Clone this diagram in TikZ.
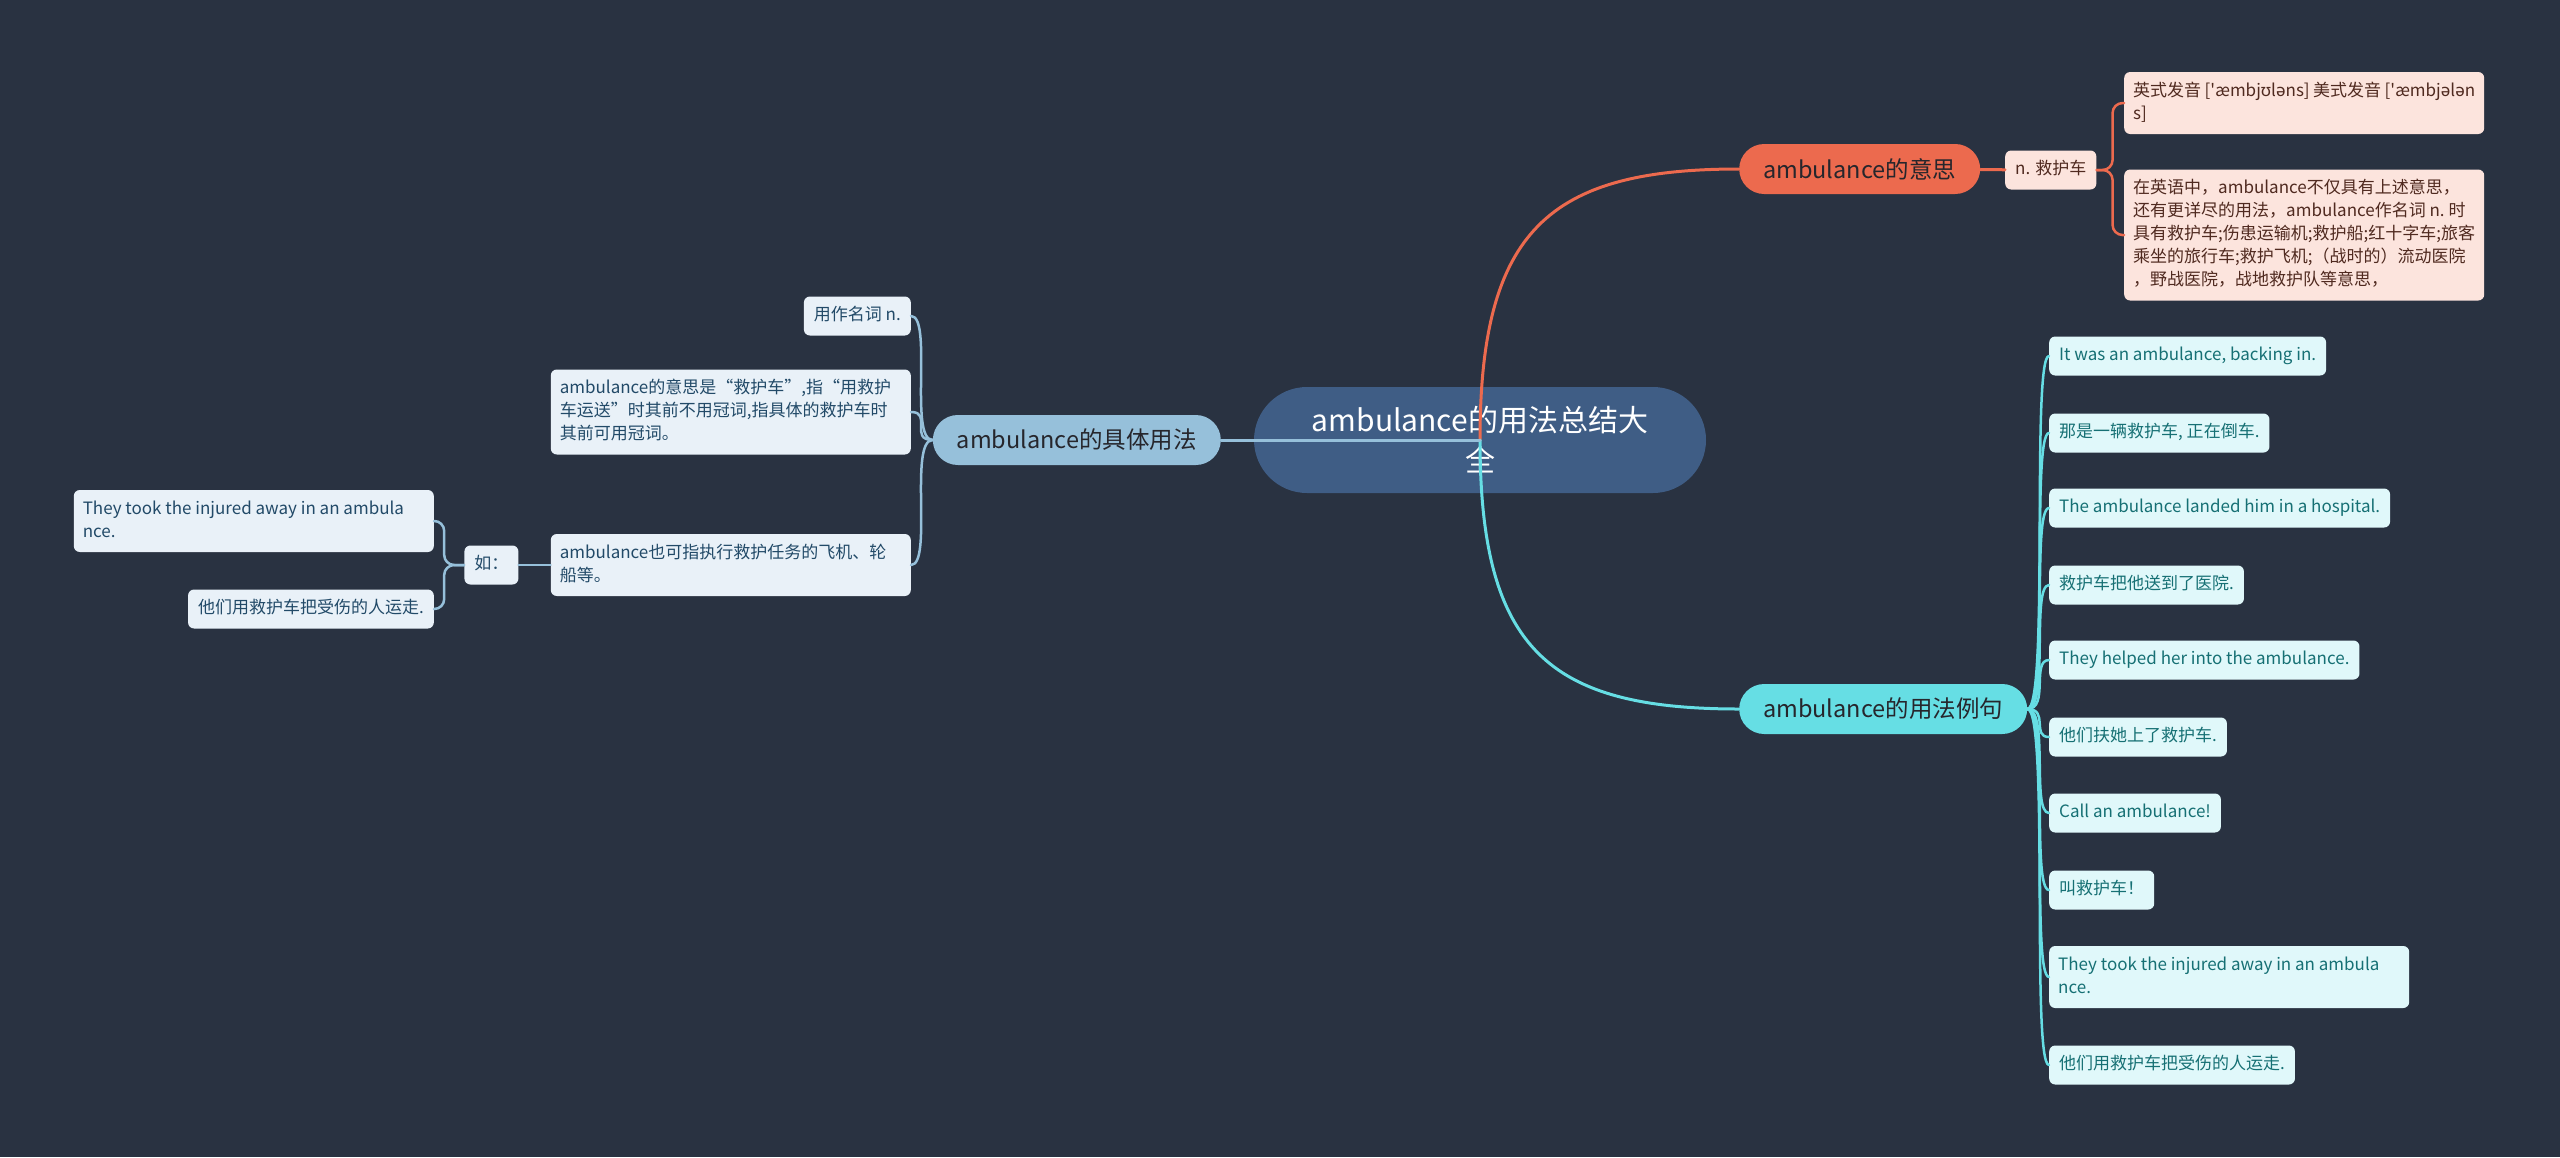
\documentclass[tikz,border=0pt]{standalone}
\usepackage{fontspec}
\setmainfont{Noto Sans CJK SC}
\newfontfamily\ipafont{Noto Sans}
\usetikzlibrary{positioning}
\definecolor{bgc}{RGB}{41,50,65}
\definecolor{rootc}{RGB}{63,93,133}
\definecolor{orangec}{RGB}{236,106,78}
\definecolor{bluec}{RGB}{150,192,218}
\definecolor{cyanc}{RGB}{102,222,228}
\definecolor{pinkfill}{RGB}{252,228,221}
\definecolor{pinktext}{RGB}{80,42,32}
\definecolor{bluefill}{RGB}{233,241,248}
\definecolor{bluetext}{RGB}{34,74,104}
\definecolor{cyanfill}{RGB}{224,248,250}
\definecolor{cyantext}{RGB}{22,112,116}
\definecolor{darktext}{RGB}{38,38,44}

\begin{document}
\begin{tikzpicture}[x=1pt, y=-1pt, line cap=round,
  topic/.style={fill=rootc, text=white, rounded corners=53pt, minimum width=452pt, minimum height=106pt, align=center, font=\fontsize{30}{40}\selectfont},
  branch/.style={rounded corners=25pt, minimum height=50pt, inner xsep=24pt, text=darktext, font=\fontsize{23.5}{30}\selectfont},
  leaf/.style={rounded corners=6pt, inner xsep=10pt, inner ysep=8pt, align=flush left, font=\fontsize{17}{23}\selectfont, execute at begin node=\strut, execute at end node=\strut},
  wide/.style={text width=342pt, inner xsep=9pt},
  pinkleaf/.style={leaf, fill=pinkfill, text=pinktext},
  blueleaf/.style={leaf, fill=bluefill, text=bluetext},
  cyanleaf/.style={leaf, fill=cyanfill, text=cyantext},
  oline/.style={draw=orangec, line width=3pt},
  bline/.style={draw=bluec, line width=3pt},
  cline/.style={draw=cyanc, line width=3pt}]
  \fill[bgc, use as bounding box] (0,0) rectangle (2560,1157);

  \node[topic] (root) at (1480,440) {ambulance的用法总结大\\全};

  \node[branch, fill=orangec, anchor=west] (mean) at (1739,169) {ambulance的意思};
  \node[pinkleaf, anchor=west] (noun) at (2005,170) {n. 救护车};
  \node[pinkleaf, wide, anchor=west] (p1) at (2124,103) {英式发音~[\textquotesingle æmbj{\ipafont ʊ}l{\ipafont ə}ns]~美式发音~[\textquotesingle æmbj{\ipafont ə}l{\ipafont ə}n\\s]};
  \node[pinkleaf, wide, anchor=west] (p2) at (2124,235) {在英语中，ambulance不仅具有上述意思，\\还有更详尽的用法，ambulance作名词~n.~时\\具有救护车;伤患运输机;救护船;红十字车;旅客\\乘坐的旅行车;救护飞机;（战时的）流动医院\\，野战医院，战地救护队等意思，};

  \node[branch, fill=cyanc, anchor=west] (ex) at (1739,709) {ambulance的用法例句};
  \node[cyanleaf, anchor=west] (e1) at (2049,356) {It was an ambulance, backing in.};
  \node[cyanleaf, anchor=west] (e2) at (2049,433) {那是一辆救护车, 正在倒车.};
  \node[cyanleaf, anchor=west] (e3) at (2049,508) {The ambulance landed him in a hospital.};
  \node[cyanleaf, anchor=west] (e4) at (2049,585) {救护车把他送到了医院.};
  \node[cyanleaf, anchor=west] (e5) at (2049,660) {They helped her into the ambulance.};
  \node[cyanleaf, anchor=west] (e6) at (2049,737) {他们扶她上了救护车.};
  \node[cyanleaf, anchor=west] (e7) at (2049,813) {Call an ambulance!};
  \node[cyanleaf, anchor=west] (e8) at (2049,890) {叫救护车！};
  \node[cyanleaf, wide, anchor=west] (e9) at (2049,977) {They took the injured away in an ambula\\nce.};
  \node[cyanleaf, anchor=west] (e10) at (2049,1065) {他们用救护车把受伤的人运走.};

  \node[branch, fill=bluec, anchor=east] (usage) at (1221,440) {ambulance的具体用法};
  \node[blueleaf, anchor=east] (u1) at (911,316) {用作名词 n.};
  \node[blueleaf, wide, anchor=east] (u2) at (911,412) {ambulance的意思是“救护车”,指“用救护\\车运送”时其前不用冠词,指具体的救护车时\\其前可用冠词。};
  \node[blueleaf, wide, anchor=east] (u3) at (911,565) {ambulance也可指执行救护任务的飞机、轮\\船等。};
  \node[blueleaf, left=32pt of u3] (ru) {如：};
  \node[blueleaf, wide, anchor=east] (s1) at (434,521) {They took the injured away in an ambula\\nce.};
  \node[blueleaf, anchor=east] (s2) at (434,609) {他们用救护车把受伤的人运走.};

  \draw[oline] (root.center) .. controls +(0,-210) and +(-190,0) .. (mean.west);
  \draw[cline] (root.center) .. controls +(0,210) and +(-190,0) .. (ex.west);
  \draw[bline] (root.center) -- (usage.east);

  \draw[oline] (mean) -- (noun);
  \draw[oline, line width=2.5pt, rounded corners=10pt] (noun.east) -- ++(16,0) |- (p1.west);
  \draw[oline, line width=2.5pt, rounded corners=10pt] (noun.east) -- ++(16,0) |- (p2.west);

  \draw[cline, line width=2.5pt] (ex.east) .. controls +(22,0) and +(-18,0) .. (e1.west);
  \draw[cline, line width=2.5pt] (ex.east) .. controls +(22,0) and +(-18,0) .. (e2.west);
  \draw[cline, line width=2.5pt] (ex.east) .. controls +(22,0) and +(-18,0) .. (e3.west);
  \draw[cline, line width=2.5pt] (ex.east) .. controls +(22,0) and +(-18,0) .. (e4.west);
  \draw[cline, line width=2.5pt] (ex.east) .. controls +(22,0) and +(-18,0) .. (e5.west);
  \draw[cline, line width=2.5pt] (ex.east) .. controls +(22,0) and +(-18,0) .. (e6.west);
  \draw[cline, line width=2.5pt] (ex.east) .. controls +(22,0) and +(-18,0) .. (e7.west);
  \draw[cline, line width=2.5pt] (ex.east) .. controls +(22,0) and +(-18,0) .. (e8.west);
  \draw[cline, line width=2.5pt] (ex.east) .. controls +(22,0) and +(-18,0) .. (e9.west);
  \draw[cline, line width=2.5pt] (ex.east) .. controls +(22,0) and +(-18,0) .. (e10.west);

  \draw[bline, line width=2.5pt] (usage.west) .. controls +(-24,0) and +(22,0) .. (u1.east);
  \draw[bline, line width=2.5pt] (usage.west) .. controls +(-24,0) and +(22,0) .. (u2.east);
  \draw[bline, line width=2.5pt] (usage.west) .. controls +(-24,0) and +(22,0) .. (u3.east);
  \draw[bline, line width=2.5pt] (u3) -- (ru);
  \draw[bline, line width=2.5pt, rounded corners=10pt] (ru.west) -- ++(-20,0) |- (s1.east);
  \draw[bline, line width=2.5pt, rounded corners=10pt] (ru.west) -- ++(-20,0) |- (s2.east);
\end{tikzpicture}
\end{document}
